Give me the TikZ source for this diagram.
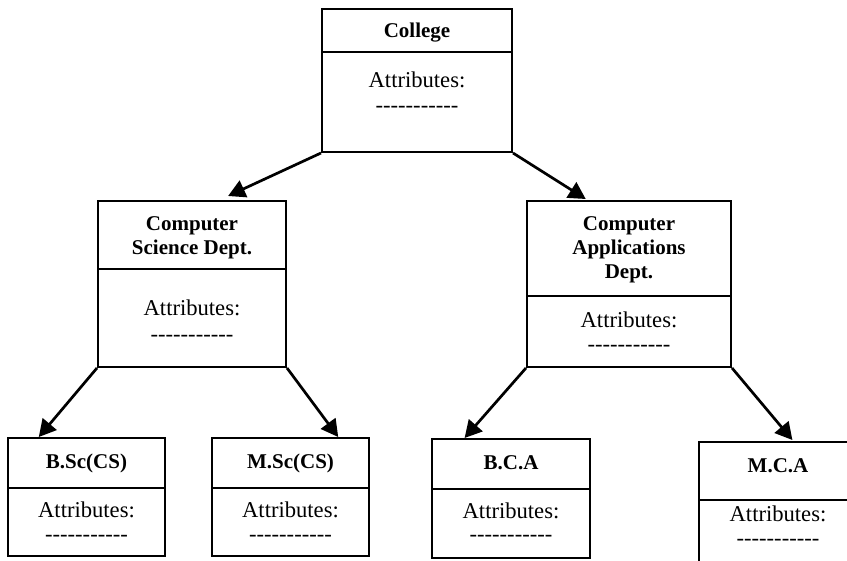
\documentclass[tikz,border=0pt]{standalone}
\usepackage{fontspec}
\newfontfamily\tnr{Liberation Serif}
\usetikzlibrary{arrows.meta,calc,fit}
\begin{document}
\begin{tikzpicture}[x=0.5pt,y=-0.5pt,
  box/.style={draw,line width=1pt,inner sep=0pt},
  rule/.style={line width=1pt},
  arr/.style={line width=1.35pt,-{Triangle[length=8.5pt,width=9pt]}},
  ttl/.style={font=\tnr\bfseries\fontsize{10.5}{12}\selectfont,anchor=base,inner sep=0pt},
  lbl/.style={font=\tnr\fontsize{11.3}{13}\selectfont,anchor=base,inner sep=0pt}]
\useasboundingbox (0,0) rectangle (847,561);
\clip (0,0) rectangle (847,561);

% class boxes
\node[box,fit={(322,9) (512,152)}] (college) {};
\node[box,fit={(98,201) (286,367)}] (csd) {};
\node[box,fit={(527,201) (731,367)}] (cad) {};
\node[box,fit={(8,438) (165,556)}] (bsc) {};
\node[box,fit={(212,438) (369,556)}] (msc) {};
\node[box,fit={(432,439) (590,558)}] (bca) {};
\node[box,fit={(699,442) (857,620)}] (mca) {};

% dividers between name and attribute compartments
\draw[rule] (college.west |- 0,52) -- (college.east |- 0,52);
\draw[rule] (csd.west |- 0,269) -- (csd.east |- 0,269);
\draw[rule] (cad.west |- 0,296) -- (cad.east |- 0,296);
\draw[rule] (bsc.west |- 0,488) -- (bsc.east |- 0,488);
\draw[rule] (msc.west |- 0,488) -- (msc.east |- 0,488);
\draw[rule] (bca.west |- 0,489) -- (bca.east |- 0,489);
\draw[rule] (mca.west |- 0,500) -- (mca.east |- 0,500);

% class names
\node[ttl] (college-n) at (417,38) {College};
\node[ttl] (csd-n1) at (192,230.5) {Computer};
\node[ttl] (csd-n2) at (192,254.5) {Science Dept.};
\node[ttl] (cad-n1) at (629,230.5) {Computer};
\node[ttl] (cad-n2) at (629,254.5) {Applications};
\node[ttl] (cad-n3) at (629,278.5) {Dept.};
\node[ttl] (bsc-n) at (86.5,468) {B.Sc(CS)};
\node[ttl] (msc-n) at (290.5,468) {M.Sc(CS)};
\node[ttl] (bca-n) at (511,469.5) {B.C.A};
\node[ttl] (mca-n) at (778,472.5) {M.C.A};

% attribute compartments
\node[lbl] (college-a) at (417,88) {Attributes:};
\node[lbl] (college-d) at (417,113) {-----------};
\node[lbl] (csd-a) at (192,316) {Attributes:};
\node[lbl] (csd-d) at (192,341.5) {-----------};
\node[lbl] (cad-a) at (629,327.5) {Attributes:};
\node[lbl] (cad-d) at (629,351.5) {-----------};
\node[lbl] (bsc-a) at (86.5,517.5) {Attributes:};
\node[lbl] (bsc-d) at (86.5,541.5) {-----------};
\node[lbl] (msc-a) at (290.5,517.5) {Attributes:};
\node[lbl] (msc-d) at (290.5,541.5) {-----------};
\node[lbl] (bca-a) at (511,518.5) {Attributes:};
\node[lbl] (bca-d) at (511,541.5) {-----------};
\node[lbl] (mca-a) at (778,521.5) {Attributes:};
\node[lbl] (mca-d) at (778,545.5) {-----------};

% inheritance arrows
\draw[arr] (college.south west) -- ($(csd.north west)!0.69!(csd.north east)+(0,-4)$);
\draw[arr] (college.south east) -- ($(cad.north west)!0.29!(cad.north east)+(0,-1)$);
\draw[arr] (csd.south west) -- ($(bsc.north west)!0.20!(bsc.north east)$);
\draw[arr] (csd.south east) -- ($(msc.north west)!0.80!(msc.north east)$);
\draw[arr] (cad.south west) -- ($(bca.north west)!0.21!(bca.north east)$);
\draw[arr] (cad.south east) -- ($(mca.north west)!0.59!(mca.north east)+(0,-1)$);
\end{tikzpicture}
\end{document}
